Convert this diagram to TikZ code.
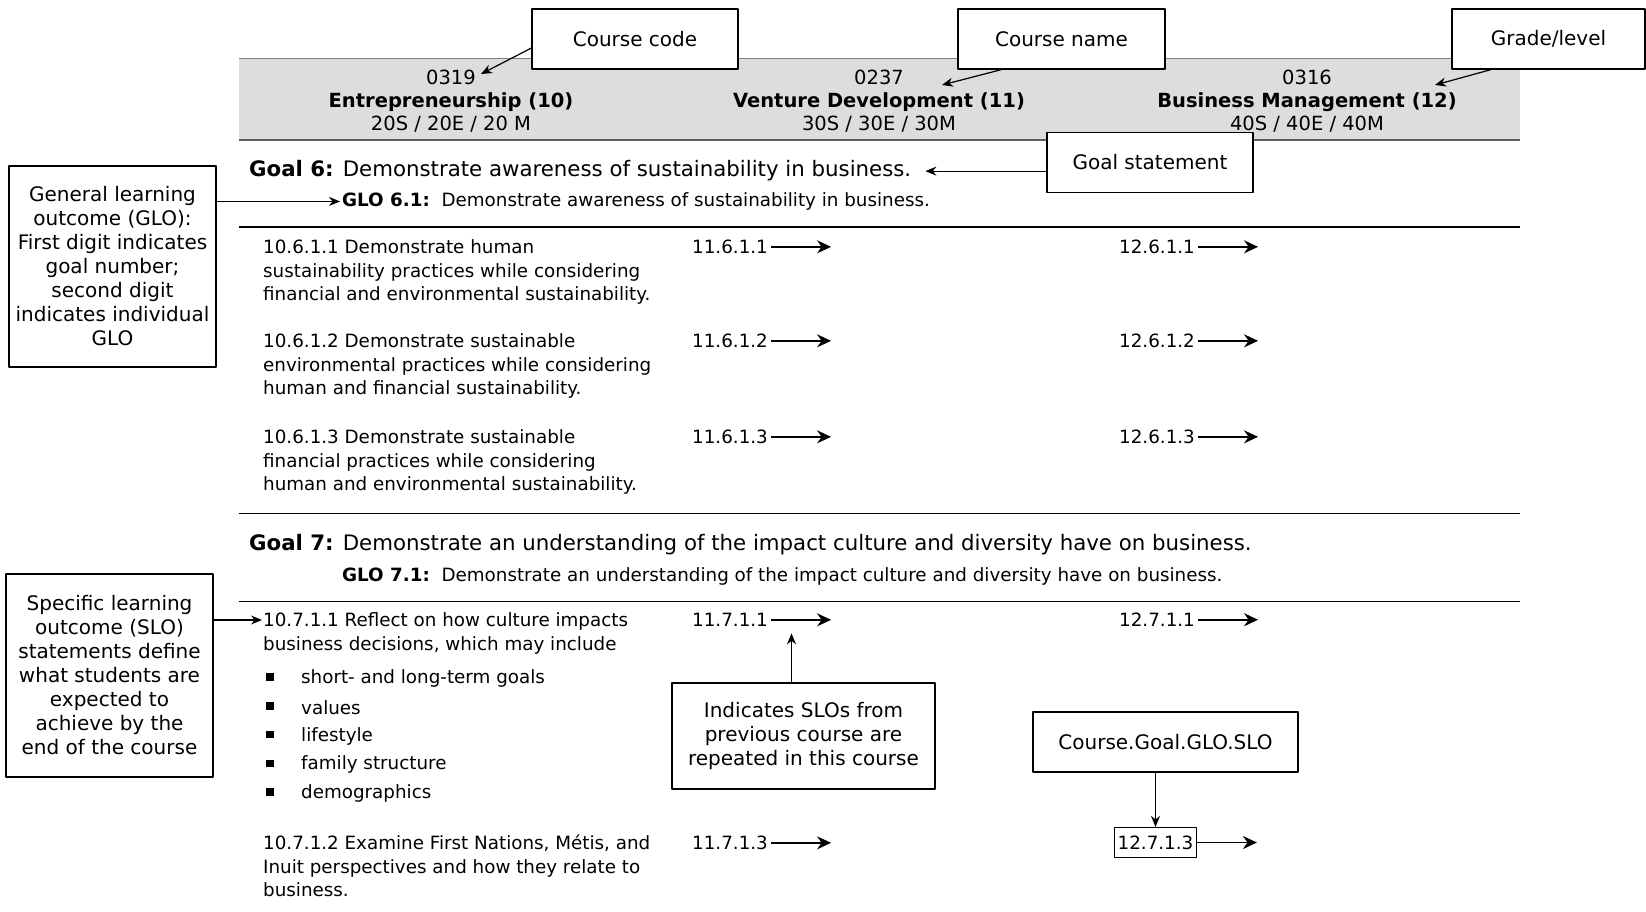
\documentclass[tikz,border=0pt]{standalone}
\usepackage{fontspec}
\setmainfont{DejaVu Sans}
\usetikzlibrary{arrows.meta}
\definecolor{bandgray}{RGB}{221,221,221}
\definecolor{rulegray}{RGB}{95,95,95}

\begin{document}
\begin{tikzpicture}[x=1pt, y=-1pt, line join=round,
  txt/.style={inner sep=0pt, align=left, anchor=base west, font=\fontsize{18.3}{23.5}\selectfont},
  head/.style={inner sep=0pt, anchor=base, font=\fontsize{19.5}{24}\selectfont},
  goal/.style={inner sep=0pt, anchor=base west, font=\fontsize{21.3}{25}\selectfont},
  callout/.style={draw, fill=white, line width=1.3pt, align=center, inner sep=2pt, font=\fontsize{20}{24}\selectfont},
  rule/.style={line width=1pt},
  pointer/.style={-{Stealth[length=11pt,width=9pt]}, line width=1.2pt},
  nextarr/.style={-{Stealth[length=14pt,width=13pt]}, line width=1.6pt},
  bul/.style={fill, inner sep=0pt, minimum size=7.5pt}]
\useasboundingbox (0,0) rectangle (1646,912);

% course header band
\fill[bandgray] (239,59) rectangle (1520,140);
\draw[gray, line width=1pt] (239,59) -- (1520,59);
\draw[rulegray, line width=2pt] (239,140) -- (1520,140);

\node[head] (code1) at (451,85) {0319};
\node[head] (name1) at (451,108) {\textbf{Entrepreneurship (10)}};
\node[head] (lvl1) at (451,131) {20S / 20E / 20 M};
\node[head] (code2) at (879,85) {0237};
\node[head] (name2) at (879,108) {\textbf{Venture Development (11)}};
\node[head] (lvl2) at (879,131) {30S / 30E / 30M};
\node[head] (code3) at (1307,85) {0316};
\node[head] (name3) at (1307,108) {\textbf{Business Management (12)}};
\node[head] (lvl3) at (1307,131) {40S / 40E / 40M};

% callouts on top
\node[callout, minimum width=206pt, minimum height=60pt] (cc) at (635,39) {Course code};
\node[callout, minimum width=207pt, minimum height=60pt] (cn) at (1061.5,39) {Course name};
\node[callout, minimum width=193pt, minimum height=60pt] (gl) at (1548.5,39) {Grade/level};
\coordinate (ccend) at (481,74);
\coordinate (cnend) at (942,85);
\coordinate (glend) at (1435,85);
\draw[pointer] (cc.185) -- (ccend);
\draw[pointer] (cn.207) -- (cnend);
\draw[pointer] (gl.208) -- (glend);

% goal 6
\node[callout, minimum width=206pt, minimum height=60pt] (gs) at (1150,162.5) {Goal statement};
\node[goal] (goal6) at (249,177) {\textbf{Goal 6:} Demonstrate awareness of sustainability in business.};
\draw[pointer] (goal6.east -| gs.west) -- ([xshift=14pt]goal6.east);
\node[txt] (glo61) at (342,206.5) {\textbf{GLO 6.1:}\ \ Demonstrate awareness of sustainability in business.};
\node[callout, minimum width=207pt, minimum height=201pt] (globox) at (112.5,266.5)
  {General learning\\outcome (GLO):\\First digit indicates\\goal number;\\second digit\\indicates individual\\GLO};
\draw[pointer] (globox.east |- glo61.west) -- ([xshift=-2pt]glo61.west);
\draw[rule] (239,227) -- (1520,227);

% multi-line nodes sit on the baseline of their last line
\node[txt] (s611) at (263,300.5) {10.6.1.1 Demonstrate human\\sustainability practices while considering\\financial and environmental sustainability.};
\node[txt] (s612) at (263,394.5) {10.6.1.2 Demonstrate sustainable\\environmental practices while considering\\human and financial sustainability.};
\node[txt] (s613) at (263,490.5) {10.6.1.3 Demonstrate sustainable\\financial practices while considering\\human and environmental sustainability.};
\foreach \n/\y in {1/253.5, 2/347.5, 3/443.5} {
  \node[txt] (c61\n) at (692,\y) {11.6.1.\n};
  \draw[nextarr] ([xshift=3pt]c61\n.east) -- ++(60,0);
  \node[txt] (d61\n) at (1119,\y) {12.6.1.\n};
  \draw[nextarr] ([xshift=3pt]d61\n.east) -- ++(60,0);
}
\draw[rule] (239,513) -- (1520,513);

% goal 7
\node[goal] (goal7) at (249,550.5) {\textbf{Goal 7:} Demonstrate an understanding of the impact culture and diversity have on business.};
\node[txt] (glo71) at (342,581.5) {\textbf{GLO 7.1:}\ \ Demonstrate an understanding of the impact culture and diversity have on business.};
\draw[rule] (239,601) -- (1520,601);

\node[txt] (s711) at (263,650) {10.7.1.1 Reflect on how culture impacts\\business decisions, which may include};
\foreach \t [count=\i] in {short- and long-term goals, values, lifestyle, family structure, demographics} {
  \node[bul] (b\i) at (270,{677+28.75*(\i-1)}) {};
  \node[txt, anchor=west] (it\i) at (301,{678.5+28.75*(\i-1)}) {\t};
}
\node[txt] (s712) at (263,896.5) {10.7.1.2 Examine First Nations, Métis, and\\Inuit perspectives and how they relate to\\business.};

\node[txt] (c711) at (692,626.5) {11.7.1.1};
\draw[nextarr] ([xshift=3pt]c711.east) -- ++(60,0);
\node[txt] (c713) at (692,849.5) {11.7.1.3};
\draw[nextarr] ([xshift=3pt]c713.east) -- ++(60,0);
\node[txt] (d711) at (1119,626.5) {12.7.1.1};
\draw[nextarr] ([xshift=3pt]d711.east) -- ++(60,0);
\node[draw, line width=1.2pt, inner xsep=3pt, minimum height=30pt, font=\fontsize{18.3}{23.5}\selectfont] (d713) at (1155.5,842.5) {12.7.1.3};
\draw[nextarr] (d713.east) -- ++(60,0);

\node[callout, minimum width=207pt, minimum height=203pt] (slobox) at (109.5,675.5)
  {Specific learning\\outcome (SLO)\\statements define\\what students are\\expected to\\achieve by the\\end of the course};
\coordinate (sloin) at (262,620);
\draw[pointer] (slobox.east |- sloin) -- (sloin);

\node[callout, minimum width=263pt, minimum height=106pt] (ind) at (803.5,736)
  {Indicates SLOs from\\previous course are\\repeated in this course};
\draw[pointer] ([xshift=-12pt]ind.north) -- ++(0,-49);

\node[callout, minimum width=265pt, minimum height=60pt] (cg) at (1165.5,742) {Course.Goal.GLO.SLO};
\draw[pointer] (cg.south -| d713.north) -- (d713.north);
\end{tikzpicture}
\end{document}
